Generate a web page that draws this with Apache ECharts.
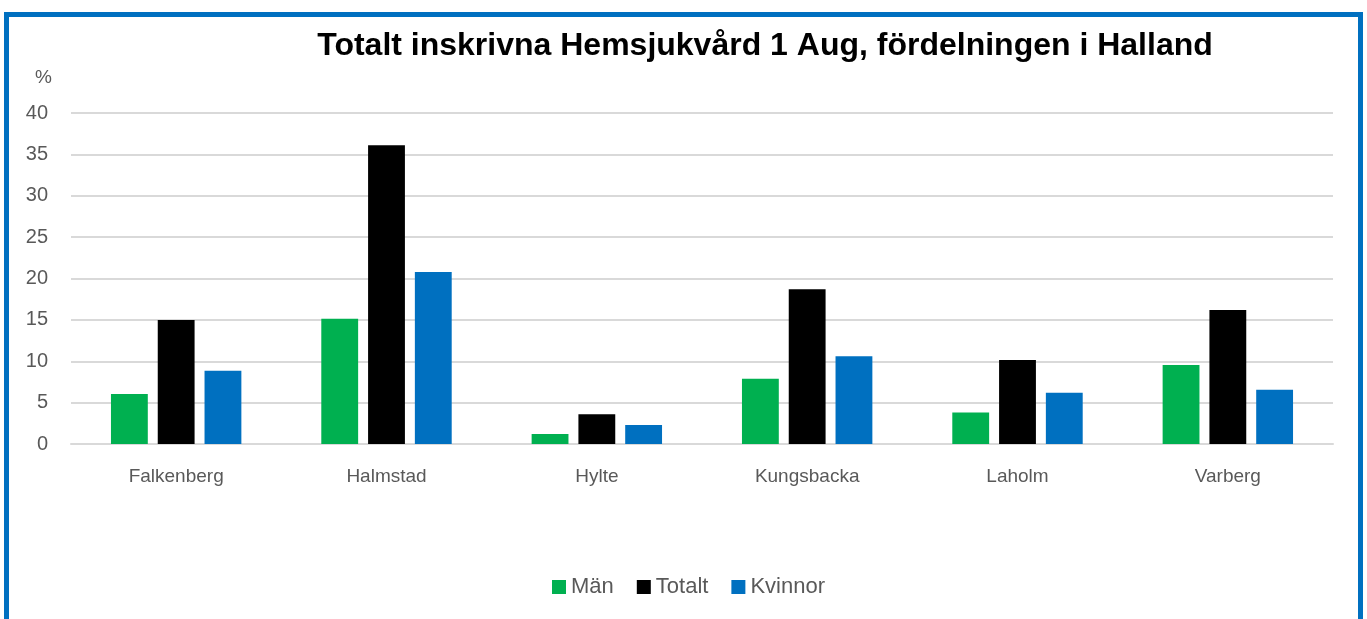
<!DOCTYPE html>
<html>
<head>
<meta charset="utf-8">
<script src="https://cdn.jsdelivr.net/npm/echarts@6/dist/echarts.min.js"></script>
<style>
html,body{margin:0;padding:0;background:#fff;}
#chart{width:1367px;height:619px;}
</style>
</head>
<body>
<div id="chart"></div>
<script>
const categories = ['Falkenberg', 'Halmstad', 'Hylte', 'Kungsbacka', 'Laholm', 'Varberg'];
const man = [6.05, 15.15, 1.2, 7.9, 3.8, 9.55];
const totalt = [15.0, 36.1, 3.6, 18.7, 10.15, 16.2];
const kvinnor = [8.86, 20.8, 2.3, 10.6, 6.2, 6.55];
const seriesNames = ['Män', 'Totalt', 'Kvinnor'];
const yTicks = [0, 5, 10, 15, 20, 25, 30, 35, 40];

const chart = echarts.init(document.getElementById('chart'), null, {renderer: 'canvas'});
const font = 'Liberation Sans, Arial, sans-serif';
chart.setOption({
  animation: false,
  backgroundColor: '#fff',
  title: {
    text: 'Totalt inskrivna Hemsjukvård 1 Aug, fördelningen i Halland',
    left: 760, top: 25, textAlign: 'center',
    textStyle: {fontFamily: font, fontWeight: 'bold', fontSize: 32, color: '#000'}
  },
  graphic: [{
    type: 'rect', shape: {x: 6.5, y: 14.5, width: 1354, height: 640},
    style: {fill: 'none', stroke: '#0070C0', lineWidth: 5}, silent: true
  }],
  legend: {
    data: seriesNames, left: 552, top: 576, padding: 0, itemWidth: 14, itemHeight: 14, itemGap: 23,
    icon: 'rect',
    textStyle: {fontFamily: font, fontSize: 22, color: '#595959', padding: [0, 0, 0, 0]}
  },
  grid: {left: 71, right: 34, top: 113, bottom: 175, containLabel: false},
  xAxis: {
    type: 'category', data: categories,
    axisLine: {show: true, lineStyle: {color: '#D9D9D9', width: 2}},
    axisTick: {show: false},
    axisLabel: {fontFamily: font, fontSize: 19, color: '#595959', margin: 23}
  },
  yAxis: {
    type: 'value', min: 0, max: 40, interval: 5,
    name: '%', nameLocation: 'end', nameGap: 35,
    nameTextStyle: {fontFamily: font, fontSize: 19, color: '#595959', align: 'right', verticalAlign: 'middle', padding: [0, 19, 0, 0]},
    axisLine: {show: false}, axisTick: {show: false},
    axisLabel: {fontFamily: font, fontSize: 20, color: '#595959', margin: 23,
      formatter: v => yTicks.includes(v) ? String(v) : ''},
    splitLine: {lineStyle: {color: '#D9D9D9', width: 2}}
  },
  series: [
    {name: seriesNames[0], type: 'bar', data: man, itemStyle: {color: '#00B050'}, barGap: '27%', barCategoryGap: '38%'},
    {name: seriesNames[1], type: 'bar', data: totalt, itemStyle: {color: '#000000'}},
    {name: seriesNames[2], type: 'bar', data: kvinnor, itemStyle: {color: '#0070C0'}}
  ]
});
</script>
</body>
</html>
